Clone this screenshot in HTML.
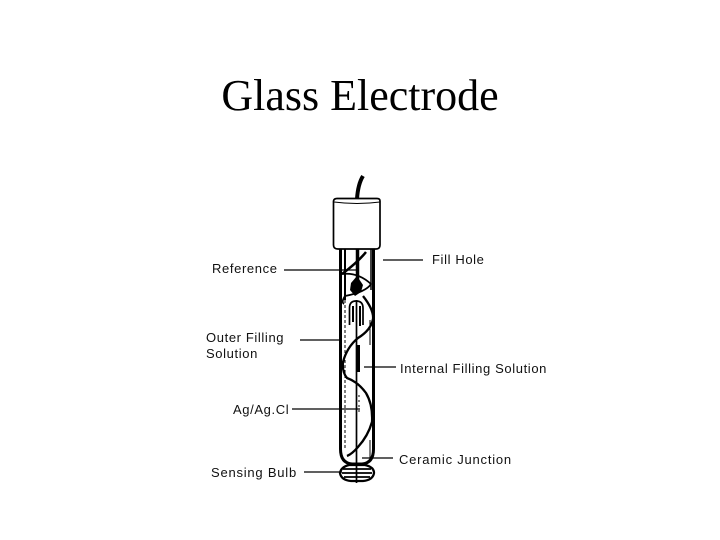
<!DOCTYPE html>
<html>
<head>
<meta charset="utf-8">
<style>
html,body{margin:0;padding:0;background:#fff;}
svg{display:block;}
text{font-family:"Liberation Sans",sans-serif;font-size:13px;fill:#111;letter-spacing:.62px;}
.t{font-family:"Liberation Serif",serif;font-size:44px;fill:#000;letter-spacing:0;}
.w{letter-spacing:.78px;}
</style>
</head>
<body>
<svg width="720" height="540" viewBox="0 0 720 540" xmlns="http://www.w3.org/2000/svg">
<rect width="720" height="540" fill="#fff"/>
<text class="t" x="360" y="110" text-anchor="middle">Glass Electrode</text>

<g fill="none" stroke="#000" stroke-width="1.5">
  <!-- wire -->
  <path d="M363 176 Q358 184 357 199" stroke-width="4"/>
  <!-- cap -->
  <path d="M333.500 201 Q334 198.500 337 198.500 H377 Q380 198.500 380 201 V245 Q380 249 376 249 H338 Q333.500 249 333.500 245 Z" stroke-width="1.700"/>
  <path d="M334 202 Q357 205 380 202" stroke-width="1"/>
  <!-- outer tube -->
  <path d="M340.500 249 V449 Q340.500 463 352 464 H362 Q373.500 463 373.500 449 V249" stroke-width="3"/>
  <!-- inner lines -->
  <path d="M345 249 V300" stroke-width="2"/>
  <path d="M345 300 V450" stroke-width="1" stroke-dasharray="3 2"/>
  <path d="M371 249 V290" stroke-width="1.500"/>
  <path d="M370 320 V345 M370 440 V458" stroke-width="1"/>
  <!-- central stem -->
  <path d="M357.500 249 V285" stroke-width="3.500"/>
  <path d="M356.500 300 V464" stroke-width="1.700"/>
  <path d="M358.500 345 V372" stroke-width="3"/>
  <path d="M359 395 V412" stroke-width="1" stroke-dasharray="2 3"/>
  <!-- inner reference tube -->
  <path d="M349.500 325 V308 Q349.500 301 356 301 Q363 301 363 308 V325" stroke-width="1.700"/>
  <path d="M353 306 V322 M360 306 V326" stroke-width="2"/>
  <!-- spiral -->
  <path d="M342 274 Q358 262 366 252" stroke-width="2.500"/>
  <path d="M342 274 Q358 272 371 284 Q366 292 345 296 Q341 302 344 304" stroke-width="1.700"/>
  <path d="M363 296 Q374 310 373 319 Q371 330 358 338 Q347 347 343 362 Q342 372 347 378 Q358 382 366 393 Q373 405 372 422 Q368 436 358 447 Q352 454 347 456" stroke-width="2.300"/>
  <!-- bulb -->
  <path d="M349 465 H365 Q374 467 374 473 Q373 480 363 481 H351 Q341 480 340 473 Q341 467 349 465 Z" stroke-width="2.300"/>
  <path d="M343 469 H371 M342 473 H372 M344 477 H370" stroke-width="1.700"/>
  <path d="M356.500 464 V483" stroke-width="1.700"/>
  <!-- leaders -->
  <g stroke-width="1.200">
    <path d="M284 270 H358"/>
    <path d="M300 340 H340"/>
    <path d="M292 409 H360"/>
    <path d="M304 472 H342"/>
    <path d="M383 260 H423"/>
    <path d="M364 367 H396"/>
    <path d="M362 458 H393"/>
  </g>
</g>
<!-- reference blob -->
<path d="M357 276 L363 285 L361 292 L355 296 L350 290 L351 283 Z" fill="#000"/>

<text x="212" y="273">Reference</text>
<text x="206" y="342">Outer Filling</text>
<text x="206" y="358">Solution</text>
<text x="233" y="414">Ag/Ag.Cl</text>
<text class="w" x="211" y="477">Sensing Bulb</text>
<text x="432" y="264">Fill Hole</text>
<text x="400" y="373">Internal Filling Solution</text>
<text class="w" x="399" y="464">Ceramic Junction</text>
</svg>
</body>
</html>
